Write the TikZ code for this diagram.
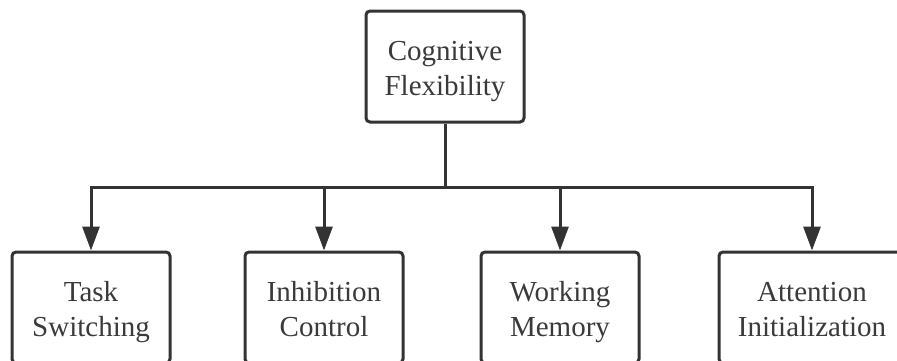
\documentclass[tikz,border=0pt]{standalone}
\usepackage{fontspec}
\setmainfont{Liberation Serif}
\usetikzlibrary{arrows.meta}
\definecolor{ink}{HTML}{333333}
\definecolor{txt}{HTML}{3A3A3A}
\newcommand{\twolines}[2]{\rule{0pt}{32.5pt}#1\\\strut #2}
\begin{document}
\begin{tikzpicture}[x=1pt,y=-1pt,
  box/.style={draw=ink, line width=3pt, rounded corners=4pt, rectangle,
    minimum height=111pt, align=center, inner sep=0pt,
    font=\fontsize{29}{35}\selectfont, text=txt},
  conn/.style={draw=ink, line width=3pt},
  arr/.style={conn, -{Triangle[length=24pt,width=17pt]}}]
\clip (0,0) rectangle (897,360);
\fill[white] (0,0) rectangle (897,360);
\node[box, minimum width=158pt] (top) at (445,66.5) {\twolines{Cognitive}{Flexibility}};
\node[box, minimum width=158pt] (b1) at (91,307.5) {\twolines{Task}{Switching}};
\node[box, minimum width=158pt] (b2) at (324,307.5) {\twolines{Inhibition}{Control}};
\node[box, minimum width=158pt] (b3) at (560,307.5) {\twolines{Working}{Memory}};
\node[box, minimum width=186pt] (b4) at (812,307.5) {\twolines{Attention}{Initialization}};
\coordinate (j) at (445,187);
\draw[conn] (top.south) -- (j);
\draw[arr] (j) -| (b1.north);
\draw[arr] (j) -| (b2.north);
\draw[arr] (j) -| (b3.north);
\draw[arr] (j) -| (b4.north);
\end{tikzpicture}
\end{document}
